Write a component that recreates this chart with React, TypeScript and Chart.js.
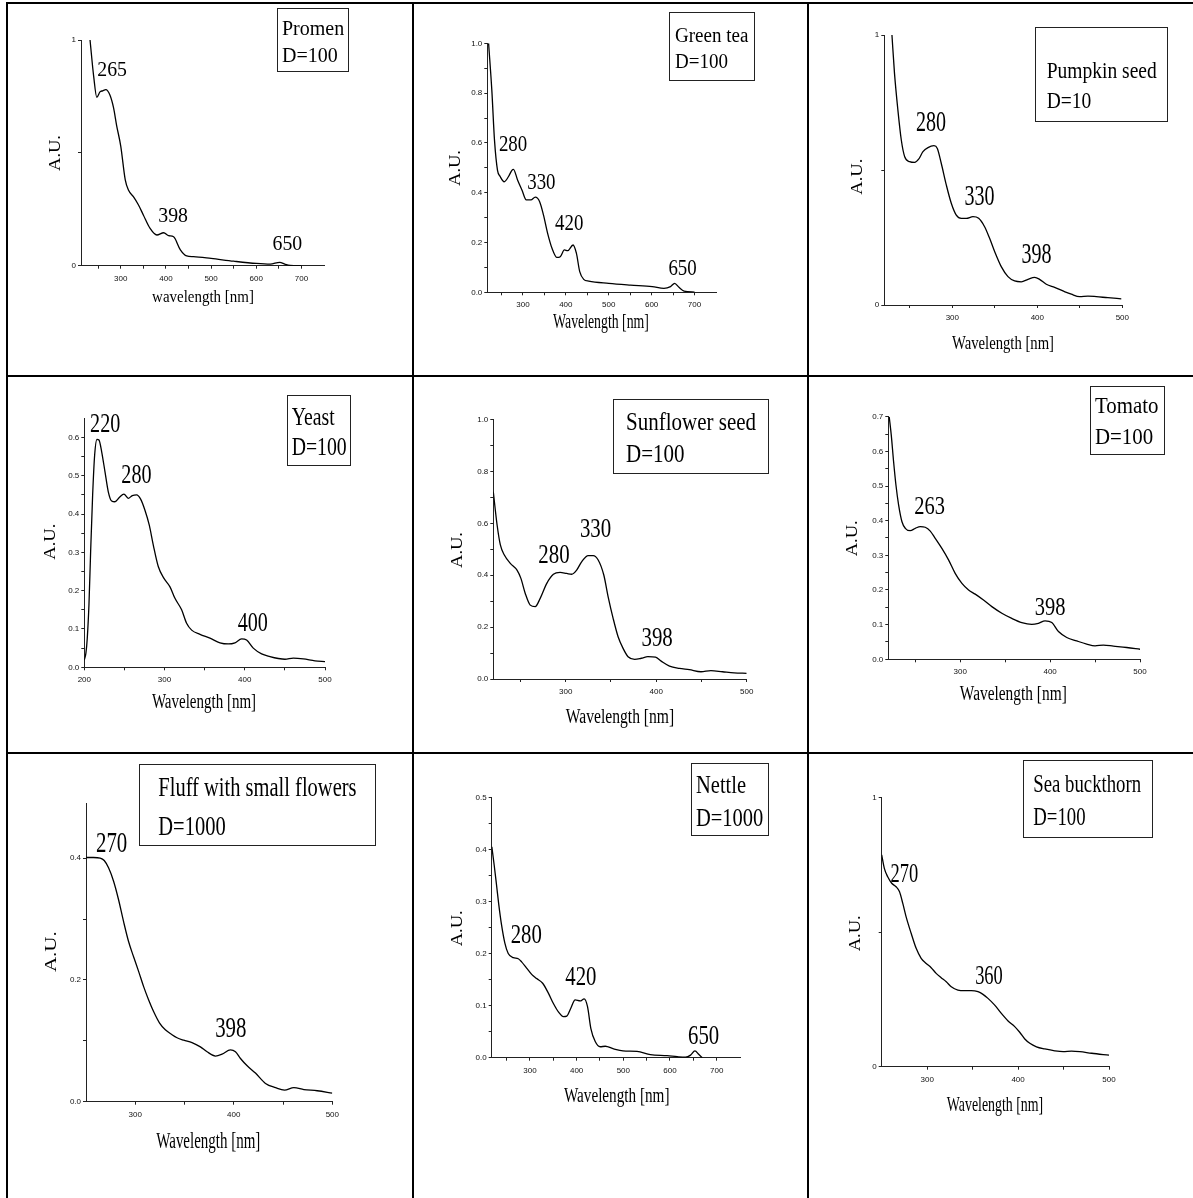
import React, { useEffect, useRef } from 'react';
import { Chart, registerables } from 'chart.js';

Chart.register(...registerables);

// ---------------- data ----------------
const promenWl = [232, 240, 247, 254, 260, 267, 276, 284, 291, 300, 310, 317, 328, 339, 350, 365, 380, 395, 406, 417, 432, 446, 461, 500, 550, 600, 631, 652, 664, 675, 700];
const promenAu = [1.0, 0.84, 0.746, 0.77, 0.775, 0.78, 0.756, 0.7, 0.62, 0.53, 0.38, 0.335, 0.306, 0.27, 0.225, 0.165, 0.136, 0.146, 0.133, 0.128, 0.07, 0.043, 0.04, 0.032, 0.02, 0.01, 0.007, 0.015, 0.006, 0.001, 0.0];
const promenPeakText = ['265', '398', '650'];
const promenPeakWl = [281, 416, 669];
const promenPeakAu = [0.872, 0.225, 0.1];

const greenTeaWl = [220, 227.6, 233.8, 240.8, 247, 256.4, 266.5, 274.3, 278, 287.5, 297.7, 307.8, 318.7, 328.8, 339, 348, 357.6, 367.8, 379.4, 387, 396.6, 404.4, 416.8, 424.6, 432.4, 441.7, 453.4, 500, 550.8, 601.4, 628.7, 644, 653.6, 663.7, 675.4, 700];
const greenTeaAu = [1.0, 0.81, 0.61, 0.49, 0.465, 0.444, 0.465, 0.49, 0.494, 0.451, 0.411, 0.371, 0.371, 0.382, 0.364, 0.31, 0.237, 0.177, 0.14, 0.143, 0.17, 0.167, 0.19, 0.157, 0.083, 0.052, 0.045, 0.036, 0.029, 0.023, 0.016, 0.023, 0.036, 0.02, 0.005, 0.001];
const greenTeaPeakText = ['280', '330', '420', '650'];
const greenTeaPeakWl = [277, 343, 408, 672];
const greenTeaPeakAu = [0.6, 0.447, 0.282, 0.1];

const pumpkinWl = [229, 232, 236, 240, 244, 249.8, 255.7, 260.4, 265.5, 271.4, 278.4, 282.4, 287, 293, 298.8, 304.7, 310.6, 316.5, 324.3, 331, 338, 343.9, 349.8, 357.6, 365.5, 373.3, 381.2, 389, 396.9, 402.7, 410.6, 420.4, 430.2, 440, 449.8, 459.6, 469.4, 483, 498.8];
const pumpkinAu = [1.0, 0.858, 0.722, 0.611, 0.549, 0.531, 0.528, 0.54, 0.568, 0.583, 0.59, 0.58, 0.525, 0.444, 0.377, 0.333, 0.321, 0.321, 0.327, 0.321, 0.29, 0.247, 0.198, 0.142, 0.105, 0.089, 0.086, 0.095, 0.102, 0.095, 0.077, 0.065, 0.052, 0.04, 0.031, 0.033, 0.031, 0.027, 0.023];
const pumpkinPeakText = ['280', '330', '398'];
const pumpkinPeakWl = [275, 332, 399];
const pumpkinPeakAu = [0.681, 0.407, 0.19];

const yeastWl = [200, 202, 203.7, 205.8, 207.9, 210.4, 212.9, 215.8, 218.3, 221.6, 225.8, 229.9, 234.1, 238.2, 243.6, 249.4, 254.8, 259.8, 265.2, 270.2, 275.6, 281, 286, 292.2, 299.3, 306.8, 313, 321.3, 327.5, 333.8, 344.2, 356.6, 369.1, 379.5, 387.8, 396.1, 402.3, 410.6, 421, 431.4, 441.8, 450.1, 460.5, 473, 487.5, 500];
const yeastAu = [0.019, 0.037, 0.076, 0.163, 0.302, 0.45, 0.554, 0.595, 0.593, 0.563, 0.51, 0.458, 0.434, 0.432, 0.443, 0.452, 0.441, 0.448, 0.45, 0.439, 0.41, 0.371, 0.319, 0.263, 0.232, 0.21, 0.18, 0.15, 0.115, 0.097, 0.086, 0.076, 0.064, 0.061, 0.064, 0.074, 0.071, 0.05, 0.035, 0.028, 0.023, 0.021, 0.024, 0.022, 0.017, 0.015];
const yeastPeakText = ['220', '280', '400'];
const yeastPeakWl = [226, 265, 410];
const yeastPeakAu = [0.636, 0.504, 0.117];

const sunflowerWl = [220, 224.2, 227.8, 232.2, 238.8, 246.2, 250.5, 255.3, 260.8, 266.3, 271.8, 279.1, 286.4, 293.8, 301.1, 306.6, 312.1, 317.6, 324.9, 330.4, 335.9, 342.1, 346.9, 352.4, 357.9, 363.4, 368.9, 376.2, 383.5, 390.8, 399.3, 405.5, 414.7, 425.6, 436.6, 449.5, 460.4, 473.3, 486.1, 500];
const sunflowerAu = [0.722, 0.594, 0.517, 0.478, 0.446, 0.42, 0.388, 0.33, 0.285, 0.279, 0.311, 0.369, 0.404, 0.411, 0.407, 0.404, 0.42, 0.452, 0.476, 0.476, 0.459, 0.401, 0.317, 0.234, 0.163, 0.118, 0.086, 0.076, 0.08, 0.086, 0.084, 0.069, 0.05, 0.041, 0.036, 0.028, 0.032, 0.028, 0.024, 0.022];
const sunflowerPeakText = ['280', '330', '398'];
const sunflowerPeakWl = [287, 333, 401];
const sunflowerPeakAu = [0.481, 0.584, 0.163];

const tomatoWl = [221, 223.3, 225.9, 228.5, 231.5, 235.2, 238.9, 244.4, 250, 255.6, 261.1, 266.7, 272.2, 279.6, 287, 294.4, 301.9, 309.3, 316.7, 325.9, 335.2, 346.3, 357.4, 368.5, 379.6, 387, 394.4, 401.9, 409.3, 418.5, 429.6, 440.7, 450, 459.3, 470.4, 485.2, 500];
const tomatoAu = [0.7, 0.647, 0.57, 0.503, 0.445, 0.397, 0.378, 0.371, 0.378, 0.383, 0.381, 0.37, 0.349, 0.32, 0.287, 0.248, 0.219, 0.2, 0.188, 0.171, 0.152, 0.133, 0.118, 0.106, 0.101, 0.104, 0.111, 0.106, 0.08, 0.063, 0.053, 0.044, 0.039, 0.041, 0.038, 0.034, 0.029];
const tomatoPeakText = ['263', '398'];
const tomatoPeakWl = [266, 400];
const tomatoPeakAu = [0.442, 0.152];

const fluffWl = [250.2, 257.6, 264.4, 268.5, 272.9, 278, 283, 288.1, 293.2, 298.3, 303.4, 308.5, 313.6, 318.6, 324.7, 330.5, 337.3, 342.4, 349.2, 357.6, 366.1, 372.9, 381.4, 388.1, 396.6, 401.7, 406.8, 413.6, 422, 432.2, 442.4, 451.5, 461, 471.2, 484.7, 500];
const fluffAu = [0.401, 0.401, 0.4, 0.396, 0.384, 0.362, 0.332, 0.296, 0.263, 0.238, 0.214, 0.189, 0.167, 0.148, 0.129, 0.118, 0.11, 0.105, 0.101, 0.097, 0.09, 0.082, 0.075, 0.078, 0.085, 0.082, 0.071, 0.059, 0.047, 0.03, 0.023, 0.019, 0.023, 0.02, 0.018, 0.014];
const fluffPeakText = ['270', '398'];
const fluffPeakWl = [276, 397];
const fluffPeakAu = [0.426, 0.122];

const nettleWl = [218.3, 223.3, 228.3, 233.3, 239.1, 246.2, 253.4, 264.2, 274.9, 282.1, 292.8, 303.6, 314.3, 327.2, 339.4, 350.2, 360.9, 371.7, 378.9, 387.5, 396.8, 407.5, 416.1, 423.3, 430.5, 439.8, 450.5, 461.3, 479.2, 499.3, 529.4, 558.1, 593.9, 615.4, 633.3, 644.1, 653.4, 662, 669.2];
const nettleAu = [0.405, 0.37, 0.332, 0.293, 0.255, 0.22, 0.2, 0.192, 0.19, 0.184, 0.172, 0.16, 0.152, 0.143, 0.124, 0.104, 0.088, 0.079, 0.08, 0.095, 0.111, 0.109, 0.113, 0.098, 0.056, 0.031, 0.021, 0.022, 0.017, 0.013, 0.012, 0.006, 0.004, 0.002, 0.001, 0.005, 0.013, 0.006, 0];
const nettlePeakText = ['280', '420', '650'];
const nettlePeakWl = [292, 409, 672];
const nettlePeakAu = [0.237, 0.157, 0.043];

const buckthornWl = [250, 252.9, 256.6, 261, 265.8, 269.5, 273.2, 276.8, 282.4, 287.9, 293.4, 298.9, 304.4, 309.9, 315.4, 321, 326.5, 333.8, 341.2, 348.5, 355.9, 361.4, 366.9, 374.3, 381.6, 389, 396.3, 401.8, 407.4, 412.9, 420.2, 429.4, 440.4, 449.6, 458.8, 468, 480.9, 500];
const buckthornAu = [0.787, 0.737, 0.706, 0.682, 0.669, 0.651, 0.607, 0.558, 0.496, 0.44, 0.403, 0.384, 0.368, 0.347, 0.331, 0.316, 0.297, 0.285, 0.283, 0.283, 0.279, 0.269, 0.254, 0.229, 0.198, 0.17, 0.149, 0.128, 0.103, 0.087, 0.074, 0.066, 0.059, 0.056, 0.058, 0.056, 0.05, 0.043];
const buckthornPeakText = ['270', '360'];
const buckthornPeakWl = [275, 368];
const buckthornPeakAu = [0.721, 0.342];

// tick values and labels
const xTicksWide = [250, 300, 350, 400, 450, 500, 550, 600, 650, 700];
const xLabelsWide = ['', '300', '', '400', '', '500', '', '600', '', '700'];
const xTicksShort = [250, 300, 350, 400, 450, 500];
const xLabelsShort = ['', '300', '', '400', '', '500'];
const xTicksFrom200 = [200, 250, 300, 350, 400, 450, 500];
const xLabelsFrom200 = ['200', '', '300', '', '400', '', '500'];
const xTicksFrom250 = [300, 350, 400, 450, 500];
const xLabelsFrom250 = ['300', '', '400', '', '500'];

const yTicksUnit = [0, 0.5, 1];
const yLabelsUnit = ['0', '', '1'];
const yTicksTenths = [0, 0.1, 0.2, 0.3, 0.4, 0.5, 0.6, 0.7, 0.8, 0.9, 1.0];
const yLabelsTenths = ['0.0', '', '0.2', '', '0.4', '', '0.6', '', '0.8', '', '1.0'];
const yTicksYeast = [0, 0.05, 0.1, 0.15, 0.2, 0.25, 0.3, 0.35, 0.4, 0.45, 0.5, 0.55, 0.6];
const yLabelsYeast = ['0.0', '', '0.1', '', '0.2', '', '0.3', '', '0.4', '', '0.5', '', '0.6'];
const yTicksTomato = [0, 0.05, 0.1, 0.15, 0.2, 0.25, 0.3, 0.35, 0.4, 0.45, 0.5, 0.55, 0.6, 0.65, 0.7];
const yLabelsTomato = ['0.0', '', '0.1', '', '0.2', '', '0.3', '', '0.4', '', '0.5', '', '0.6', '', '0.7'];
const yTicksFluff = [0, 0.1, 0.2, 0.3, 0.4];
const yLabelsFluff = ['0.0', '', '0.2', '', '0.4'];
const yTicksNettle = [0, 0.05, 0.1, 0.15, 0.2, 0.25, 0.3, 0.35, 0.4, 0.45, 0.5];
const yLabelsNettle = ['0.0', '', '0.1', '', '0.2', '', '0.3', '', '0.4', '', '0.5'];

// ---------------- layout ----------------
type Spec = {
  cell: number[];
  plot: number[];
  xMin: number; xMax: number; yMin: number; yMax: number;
  xTicks: number[]; xLabels: string[]; yTicks: number[]; yLabels: string[];
  wl: number[]; au: number[];
  peakText: string[]; peakWl: number[]; peakAu: number[];
  peakSize: number; peakSx: number;
  legendLines: string[]; legendBox: number[]; legendX: number; legendY: number[]; legendSize: number; legendSx: number;
  xTitle: string; xTitlePos: number[]; xTitleSize: number; xTitleSx: number;
  yTitlePos: number[]; yTitleSize: number; yTitleSx: number;
};

const COLS = [[8, 412], [414, 807], [809, 1193]];
const ROWS = [[4, 375], [377, 752], [754, 1198]];
const cellOf = (r: number, c: number) => [COLS[c][0], ROWS[r][0], COLS[c][1], ROWS[r][1]];

const specs: Spec[] = [
  {
    cell: cellOf(0, 0), plot: [81, 40, 324, 265.7],
    xMin: 212, xMax: 750, yMin: 0, yMax: 1,
    xTicks: xTicksWide, xLabels: xLabelsWide, yTicks: yTicksUnit, yLabels: yLabelsUnit,
    wl: promenWl, au: promenAu,
    peakText: promenPeakText, peakWl: promenPeakWl, peakAu: promenPeakAu, peakSize: 22, peakSx: 0.9,
    legendLines: ['Promen', 'D=100'], legendBox: [277, 8, 348, 71], legendX: 282, legendY: [28.3, 55.7], legendSize: 20, legendSx: 1.0,
    xTitle: 'wavelength [nm]', xTitlePos: [203, 296], xTitleSize: 17, xTitleSx: 0.88,
    yTitlePos: [55, 153], yTitleSize: 16.5, yTitleSx: 1.12,
  },
  {
    cell: cellOf(0, 1), plot: [487.3, 43.3, 716, 292.3],
    xMin: 217, xMax: 750, yMin: 0, yMax: 1,
    xTicks: xTicksWide, xLabels: xLabelsWide, yTicks: yTicksTenths, yLabels: yLabelsTenths,
    wl: greenTeaWl, au: greenTeaAu,
    peakText: greenTeaPeakText, peakWl: greenTeaPeakWl, peakAu: greenTeaPeakAu, peakSize: 23, peakSx: 0.82,
    legendLines: ['Green tea', 'D=100'], legendBox: [669.3, 11.7, 754.3, 80], legendX: 675, legendY: [35, 61.7], legendSize: 20, legendSx: 0.95,
    xTitle: 'Wavelength [nm]', xTitlePos: [601, 321.2], xTitleSize: 20, xTitleSx: 0.69,
    yTitlePos: [455, 168], yTitleSize: 16.5, yTitleSx: 1.12,
  },
  {
    cell: cellOf(0, 2), plot: [884.3, 35, 1122.3, 305],
    xMin: 220, xMax: 500, yMin: 0, yMax: 1,
    xTicks: xTicksShort, xLabels: xLabelsShort, yTicks: yTicksUnit, yLabels: yLabelsUnit,
    wl: pumpkinWl, au: pumpkinAu,
    peakText: pumpkinPeakText, peakWl: pumpkinPeakWl, peakAu: pumpkinPeakAu, peakSize: 29.5, peakSx: 0.68,
    legendLines: ['Pumpkin seed', 'D=10'], legendBox: [1035, 26.7, 1167.3, 120.7], legendX: 1046.7, legendY: [70.8, 100.8], legendSize: 22.7, legendSx: 0.86,
    xTitle: 'Wavelength [nm]', xTitlePos: [1003, 342.8], xTitleSize: 18.6, xTitleSx: 0.79,
    yTitlePos: [856.7, 176.7], yTitleSize: 16.5, yTitleSx: 1.12,
  },
  {
    cell: cellOf(1, 0), plot: [84.3, 418.2, 325, 667.3],
    xMin: 200, xMax: 500, yMin: 0, yMax: 0.65,
    xTicks: xTicksFrom200, xLabels: xLabelsFrom200, yTicks: yTicksYeast, yLabels: yLabelsYeast,
    wl: yeastWl, au: yeastAu,
    peakText: yeastPeakText, peakWl: yeastPeakWl, peakAu: yeastPeakAu, peakSize: 26.5, peakSx: 0.76,
    legendLines: ['Yeast', 'D=100'], legendBox: [287.3, 395, 350.7, 465], legendX: 291.7, legendY: [416.7, 446.7], legendSize: 25, legendSx: 0.79,
    xTitle: 'Wavelength [nm]', xTitlePos: [204, 701.7], xTitleSize: 20, xTitleSx: 0.75,
    yTitlePos: [50, 541.7], yTitleSize: 16.5, yTitleSx: 1.12,
  },
  {
    cell: cellOf(1, 1), plot: [493.3, 419.7, 746.7, 679],
    xMin: 220, xMax: 500, yMin: 0, yMax: 1,
    xTicks: xTicksShort, xLabels: xLabelsShort, yTicks: yTicksTenths, yLabels: yLabelsTenths,
    wl: sunflowerWl, au: sunflowerAu,
    peakText: sunflowerPeakText, peakWl: sunflowerPeakWl, peakAu: sunflowerPeakAu, peakSize: 27.5, peakSx: 0.76,
    legendLines: ['Sunflower seed', 'D=100'], legendBox: [613.3, 399.3, 768.3, 473.3], legendX: 626, legendY: [421.7, 453.3], legendSize: 25, legendSx: 0.84,
    xTitle: 'Wavelength [nm]', xTitlePos: [620, 716.7], xTitleSize: 20, xTitleSx: 0.78,
    yTitlePos: [456.7, 550], yTitleSize: 16.5, yTitleSx: 1.12,
  },
  {
    cell: cellOf(1, 2), plot: [888.3, 416.7, 1140, 659.3],
    xMin: 220, xMax: 500, yMin: 0, yMax: 0.7,
    xTicks: xTicksShort, xLabels: xLabelsShort, yTicks: yTicksTomato, yLabels: yLabelsTomato,
    wl: tomatoWl, au: tomatoAu,
    peakText: tomatoPeakText, peakWl: tomatoPeakWl, peakAu: tomatoPeakAu, peakSize: 24.7, peakSx: 0.83,
    legendLines: ['Tomato', 'D=100'], legendBox: [1090, 385.7, 1164.3, 453.3], legendX: 1095, legendY: [405.7, 436.3], legendSize: 22.7, legendSx: 0.92,
    xTitle: 'Wavelength [nm]', xTitlePos: [1013.3, 693.3], xTitleSize: 20, xTitleSx: 0.77,
    yTitlePos: [851.7, 538.3], yTitleSize: 16.5, yTitleSx: 1.12,
  },
  {
    cell: cellOf(2, 0), plot: [86, 803.3, 332.3, 1101.7],
    xMin: 250, xMax: 500, yMin: 0, yMax: 0.49,
    xTicks: xTicksFrom250, xLabels: xLabelsFrom250, yTicks: yTicksFluff, yLabels: yLabelsFluff,
    wl: fluffWl, au: fluffAu,
    peakText: fluffPeakText, peakWl: fluffPeakWl, peakAu: fluffPeakAu, peakSize: 29, peakSx: 0.72,
    legendLines: ['Fluff with small flowers', 'D=1000'], legendBox: [139.3, 764.3, 375, 845.7], legendX: 158.3, legendY: [787.3, 825.7], legendSize: 27.7, legendSx: 0.74,
    xTitle: 'Wavelength [nm]', xTitlePos: [208.3, 1140.8], xTitleSize: 22.7, xTitleSx: 0.66,
    yTitlePos: [50, 951.7], yTitleSize: 17.5, yTitleSx: 1.2,
  },
  {
    cell: cellOf(2, 1), plot: [491.7, 797.3, 740, 1057.7],
    xMin: 218, xMax: 750, yMin: 0, yMax: 0.5,
    xTicks: xTicksWide, xLabels: xLabelsWide, yTicks: yTicksNettle, yLabels: yLabelsNettle,
    wl: nettleWl, au: nettleAu,
    peakText: nettlePeakText, peakWl: nettlePeakWl, peakAu: nettlePeakAu, peakSize: 27, peakSx: 0.77,
    legendLines: ['Nettle', 'D=1000'], legendBox: [691, 763.3, 768.3, 835.7], legendX: 696, legendY: [785, 817.3], legendSize: 25, legendSx: 0.82,
    xTitle: 'Wavelength [nm]', xTitlePos: [616.7, 1095], xTitleSize: 20, xTitleSx: 0.76,
    yTitlePos: [456.7, 928.3], yTitleSize: 16.5, yTitleSx: 1.12,
  },
  {
    cell: cellOf(2, 2), plot: [881.7, 797.7, 1109, 1066.7],
    xMin: 250, xMax: 500, yMin: 0, yMax: 1,
    xTicks: xTicksFrom250, xLabels: xLabelsFrom250, yTicks: yTicksUnit, yLabels: yLabelsUnit,
    wl: buckthornWl, au: buckthornAu,
    peakText: buckthornPeakText, peakWl: buckthornPeakWl, peakAu: buckthornPeakAu, peakSize: 28, peakSx: 0.66,
    legendLines: ['Sea buckthorn', 'D=100'], legendBox: [1023.3, 760, 1152.7, 836.7], legendX: 1033.3, legendY: [783.3, 816.7], legendSize: 25, legendSx: 0.75,
    xTitle: 'Wavelength [nm]', xTitlePos: [995, 1103.8], xTitleSize: 21.7, xTitleSx: 0.64,
    yTitlePos: [855, 933.3], yTitleSize: 16.5, yTitleSx: 1.12,
  },
];

const SERIF = '"Liberation Serif", "Times New Roman", serif';
const SANS = '"Liberation Sans", Arial, sans-serif';

function drawText(ctx: CanvasRenderingContext2D, text: string, x: number, y: number, size: number, sx: number, align: CanvasTextAlign, rotate = false) {
  ctx.save();
  ctx.translate(x, y);
  if (rotate) ctx.rotate(-Math.PI / 2);
  ctx.scale(sx, 1);
  ctx.font = `${size}px ${SERIF}`;
  ctx.fillStyle = '#000';
  ctx.textAlign = align;
  ctx.textBaseline = 'alphabetic';
  ctx.fillText(text, 0, 0.331 * size);
  ctx.restore();
}

function makeTextPlugin(spec: Spec) {
  return {
    id: 'panelText',
    afterDraw(chart: any) {
      const ctx: CanvasRenderingContext2D = chart.ctx;
      const ox = spec.cell[0];
      const oy = spec.cell[1];
      const xs = chart.scales.x;
      const ys = chart.scales.y;
      spec.peakText.forEach((t, i) => {
        drawText(ctx, t, xs.getPixelForValue(spec.peakWl[i]), ys.getPixelForValue(spec.peakAu[i]), spec.peakSize, spec.peakSx, 'center');
      });
      const [bl, bt, br, bb] = spec.legendBox;
      ctx.save();
      ctx.strokeStyle = '#222';
      ctx.lineWidth = 1;
      ctx.strokeRect(Math.round(bl - ox) + 0.5, Math.round(bt - oy) + 0.5, Math.round(br - bl), Math.round(bb - bt));
      ctx.restore();
      spec.legendLines.forEach((t, i) => {
        drawText(ctx, t, spec.legendX - ox, spec.legendY[i] - oy, spec.legendSize, spec.legendSx, 'left');
      });
      drawText(ctx, spec.xTitle, spec.xTitlePos[0] - ox, spec.xTitlePos[1] - oy, spec.xTitleSize, spec.xTitleSx, 'center');
      drawText(ctx, 'A.U.', spec.yTitlePos[0] - ox, spec.yTitlePos[1] - oy, spec.yTitleSize, spec.yTitleSx, 'center', true);
    },
  };
}

const YW = 40;
const XH = 20;

function SpectrumPanel({ spec }: { spec: Spec }) {
  const ref = useRef<HTMLCanvasElement>(null);
  const [cx0, cy0, cx1, cy1] = spec.cell;
  const W = cx1 - cx0;
  const H = cy1 - cy0;
  useEffect(() => {
    const [l, t, r, b] = spec.plot;
    const tickFont = { family: SANS, size: 8 };
    const chart = new Chart(ref.current as HTMLCanvasElement, {
      type: 'line',
      data: {
        datasets: [
          {
            data: spec.wl.map((x, i) => ({ x, y: spec.au[i] })),
            borderColor: '#000',
            borderWidth: 1.3,
            pointRadius: 0,
            fill: false,
            cubicInterpolationMode: 'monotone',
          },
        ],
      },
      options: {
        responsive: false,
        animation: false,
        devicePixelRatio: 1,
        events: [],
        layout: {
          autoPadding: false,
          padding: { left: l - cx0 - YW, top: t - cy0, right: cx1 - r, bottom: cy1 - b - XH },
        },
        plugins: { legend: { display: false }, tooltip: { enabled: false }, title: { display: false } },
        scales: {
          x: {
            type: 'linear',
            min: spec.xMin,
            max: spec.xMax,
            afterFit: (s: any) => { s.height = XH; },
            afterBuildTicks: (s: any) => { s.ticks = spec.xTicks.map((v) => ({ value: v })); },
            ticks: {
              autoSkip: false,
              maxRotation: 0,
              minRotation: 0,
              padding: 5,
              color: '#111',
              font: tickFont,
              callback: (_v: any, i: number) => spec.xLabels[i],
            },
            grid: { drawOnChartArea: false, drawTicks: true, tickLength: 3, color: '#222' },
            border: { display: true, color: '#222', width: 1 },
          },
          y: {
            type: 'linear',
            min: spec.yMin,
            max: spec.yMax,
            afterFit: (s: any) => { s.width = YW; },
            afterBuildTicks: (s: any) => { s.ticks = spec.yTicks.map((v) => ({ value: v })); },
            ticks: {
              autoSkip: false,
              padding: 2,
              color: '#111',
              font: tickFont,
              callback: (_v: any, i: number) => spec.yLabels[i],
            },
            grid: { drawOnChartArea: false, drawTicks: true, tickLength: 3, color: '#222' },
            border: { display: true, color: '#222', width: 1 },
          },
        },
      } as any,
      plugins: [makeTextPlugin(spec)],
    });
    return () => chart.destroy();
  }, [spec]);
  return (
    <canvas
      ref={ref}
      width={W}
      height={H}
      style={{ position: 'absolute', left: cx0, top: cy0, width: W, height: H, display: 'block' }}
    />
  );
}

const lineStyle = { position: 'absolute' as const, background: '#000' };

export default function App() {
  return (
    <div style={{ position: 'absolute', left: 0, top: 0, width: 1193, height: 1198, background: '#fff', overflow: 'hidden' }}>
      {specs.map((s, i) => (
        <SpectrumPanel key={i} spec={s} />
      ))}
      <div style={{ ...lineStyle, left: 6, top: 2, width: 2, height: 1196 }} />
      <div style={{ ...lineStyle, left: 412, top: 2, width: 2, height: 1196 }} />
      <div style={{ ...lineStyle, left: 807, top: 2, width: 2, height: 1196 }} />
      <div style={{ ...lineStyle, left: 6, top: 2, width: 1187, height: 2 }} />
      <div style={{ ...lineStyle, left: 6, top: 375, width: 1187, height: 2 }} />
      <div style={{ ...lineStyle, left: 6, top: 752, width: 1187, height: 2 }} />
    </div>
  );
}
